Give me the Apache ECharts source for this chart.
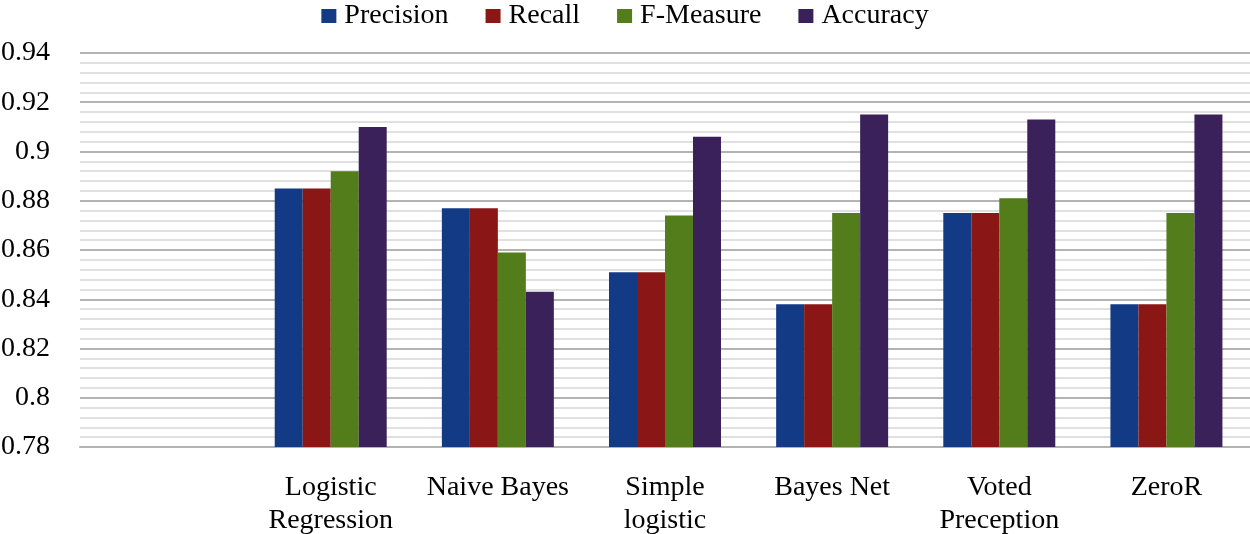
<!DOCTYPE html>
<html>
<head>
<meta charset="utf-8">
<script src="https://cdn.jsdelivr.net/npm/echarts@6/dist/echarts.min.js"></script>
<style>html,body{margin:0;padding:0;background:#fff;}#c{width:1250px;height:534px;}</style>
</head>
<body>
<div id="c"></div>
<script>
const categories = ['', 'Logistic\nRegression', 'Naive Bayes', 'Simple\nlogistic', 'Bayes Net', 'Voted\nPreception', 'ZeroR'];
const precision = [null, 0.885, 0.877, 0.851, 0.838, 0.875, 0.838];
const recall    = [null, 0.885, 0.877, 0.851, 0.838, 0.875, 0.838];
const fMeasure  = [null, 0.892, 0.859, 0.874, 0.875, 0.881, 0.875];
const accuracy  = [null, 0.910, 0.843, 0.906, 0.915, 0.913, 0.915];
const seriesNames = ['Precision', 'Recall', 'F-Measure', 'Accuracy'];
const colors = ['#133a84', '#8a1616', '#537d1a', '#3a2159'];

const font = '"Liberation Serif", "Times New Roman", serif';
const chart = echarts.init(document.getElementById('c'));
const dataSets = [precision, recall, fMeasure, accuracy];
chart.setOption({
  animation: false,
  color: colors,
  legend: {
    top: -3, left: 'center',
    itemWidth: 15, itemHeight: 14, itemGap: 37,
    icon: 'rect',
    textStyle: { fontFamily: font, fontSize: 28, color: '#000', padding: [0, 0, 0, 3] },
    data: seriesNames
  },
  grid: { left: 80, right: 0, top: 53, bottom: 87, containLabel: false, outerBoundsMode: 'none' },
  xAxis: {
    type: 'category',
    data: categories,
    axisTick: { show: false },
    axisLine: { lineStyle: { color: '#b3b3b3', width: 2 } },
    axisLabel: { interval: 0, fontFamily: font, fontSize: 28, color: '#000', lineHeight: 33, margin: 24 }
  },
  yAxis: {
    type: 'value',
    min: 0.78, max: 0.94, interval: 0.02,
    axisLine: { show: false },
    axisTick: { show: false },
    axisLabel: { fontFamily: font, fontSize: 28, color: '#000', margin: 30,
      formatter: v => String(Math.round(v * 100) / 100) },
    splitLine: { lineStyle: { color: '#b3b3b3', width: 2 } },
    minorTick: { show: false, splitNumber: 5 },
    minorSplitLine: { show: true, lineStyle: { color: '#e0e0e0', width: 2 } }
  },
  series: dataSets.map((d, i) => ({
    name: seriesNames[i],
    type: 'bar',
    data: d,
    barGap: '0%',
    barCategoryGap: '33%',
    itemStyle: { color: colors[i] }
  }))
});
</script>
</body>
</html>
